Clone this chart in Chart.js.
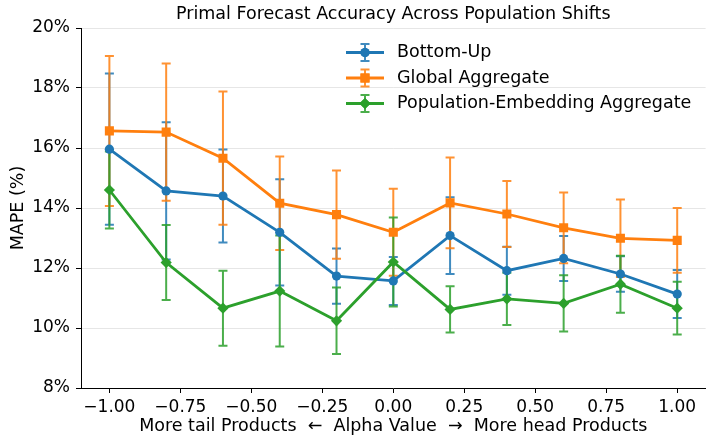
<!DOCTYPE html>
<html>
<head>
<meta charset="utf-8">
<title>Primal Forecast Accuracy</title>
<script src="https://cdn.jsdelivr.net/npm/chart.js@4.4.0/dist/chart.umd.min.js"></script>
<style>
  html, body { margin: 0; padding: 0; background: #fff; overflow: hidden; }
  #wrap { width: 712px; height: 437px; }
</style>
</head>
<body>
<div id="wrap"><canvas id="mapeChart" width="712" height="437"></canvas></div>
<script>
// alpha values on the x axis and the tick positions
const alphas = [-1.0, -0.8, -0.6, -0.4, -0.2, 0.0, 0.2, 0.4, 0.6, 0.8, 1.0];
const xTicks = [-1.0, -0.75, -0.5, -0.25, 0.0, 0.25, 0.5, 0.75, 1.0];

// MAPE (%) per method, with the +/- spread for each point
const bottomUp = [15.96, 14.57, 14.40, 13.19, 11.73, 11.57, 13.08, 11.91, 12.32, 11.80, 11.13];
const bottomUpErr = [2.52, 2.29, 1.55, 1.77, 0.92, 0.80, 1.28, 0.80, 0.75, 0.59, 0.80];
const globalAgg = [16.57, 16.53, 15.66, 14.16, 13.78, 13.19, 14.17, 13.80, 13.34, 12.99, 12.92];
const globalAggErr = [2.50, 2.29, 2.22, 1.56, 1.47, 1.45, 1.51, 1.10, 1.18, 1.29, 1.08];
const popEmbed = [14.60, 12.18, 10.66, 11.23, 10.24, 12.20, 10.62, 10.97, 10.82, 11.46, 10.66];
const popEmbedErr = [1.28, 1.25, 1.25, 1.85, 1.11, 1.48, 0.77, 0.87, 0.94, 0.95, 0.88];

const FONT = "'DejaVu Sans', sans-serif";
const TICK_SIZE = 17;
const LABEL_SIZE = 17.5;

function series(label, values, errors, color, pointStyle, radius, order) {
  return {
    label: label,
    data: alphas.map((a, i) => ({ x: a, y: values[i] })),
    errors: errors,
    borderColor: color,
    backgroundColor: color,
    borderWidth: 2.8,
    pointStyle: pointStyle,
    pointRadius: radius,
    pointBorderWidth: 0,
    order: order,
  };
}

// vertical error bars with caps, drawn under all the lines
const errorBars = {
  id: 'errorBars',
  beforeDatasetsDraw(chart) {
    const ctx = chart.ctx;
    const xs = chart.scales.x, ys = chart.scales.y;
    const area = chart.chartArea;
    ctx.save();
    ctx.beginPath();
    ctx.rect(area.left, area.top, area.right - area.left, area.bottom - area.top);
    ctx.clip();
    ctx.lineWidth = 2;
    ctx.globalAlpha = 0.85;
    chart.data.datasets.forEach(ds => {
      ctx.strokeStyle = ds.borderColor;
      ds.data.forEach((p, i) => {
        const e = ds.errors[i];
        const px = xs.getPixelForValue(p.x);
        const top = ys.getPixelForValue(p.y + e);
        const bot = ys.getPixelForValue(p.y - e);
        ctx.beginPath();
        ctx.moveTo(px, top); ctx.lineTo(px, bot);
        ctx.moveTo(px - 4.5, top); ctx.lineTo(px + 4.5, top);
        ctx.moveTo(px - 4.5, bot); ctx.lineTo(px + 4.5, bot);
        ctx.stroke();
      });
    });
    ctx.restore();
  }
};

// legend inside the plot: line + marker + error bar handle, no frame
const errLegend = {
  id: 'errLegend',
  afterDraw(chart) {
    const ctx = chart.ctx;
    const area = chart.chartArea;
    const x0 = area.left + 265, y0 = area.top + 24.5;
    ctx.save();
    chart.data.datasets.forEach((ds, i) => {
      const y = y0 + i * 25.5;
      const cx = x0 + 19;
      ctx.strokeStyle = ds.borderColor;
      ctx.lineWidth = 2.8;
      ctx.beginPath();
      ctx.moveTo(x0, y); ctx.lineTo(x0 + 38, y);
      ctx.stroke();
      ctx.globalAlpha = 0.85;
      ctx.lineWidth = 2;
      ctx.beginPath();
      ctx.moveTo(cx, y - 8.5); ctx.lineTo(cx, y + 8.5);
      ctx.moveTo(cx - 4.5, y - 8.5); ctx.lineTo(cx + 4.5, y - 8.5);
      ctx.moveTo(cx - 4.5, y + 8.5); ctx.lineTo(cx + 4.5, y + 8.5);
      ctx.stroke();
      ctx.globalAlpha = 1;
      ctx.fillStyle = ds.backgroundColor;
      Chart.helpers.drawPoint(ctx, { pointStyle: ds.pointStyle, radius: ds.pointRadius, rotation: 0, borderWidth: 0 }, cx, y);
      ctx.fill();
      ctx.fillStyle = '#000';
      ctx.font = LABEL_SIZE + 'px ' + FONT;
      ctx.textBaseline = 'middle';
      ctx.textAlign = 'left';
      ctx.fillText(ds.label, x0 + 51, y);
    });
    ctx.restore();
  }
};

const fmtMinus = v => (v < 0 ? '\u2212' : '') + Math.abs(v).toFixed(2);

new Chart(document.getElementById('mapeChart'), {
  type: 'line',
  data: {
    datasets: [
      series('Bottom-Up', bottomUp, bottomUpErr, '#1f77b4', 'circle', 4.6, 3),
      series('Global Aggregate', globalAgg, globalAggErr, '#ff7f0e', 'rect', 6.4, 2),
      series('Population-Embedding Aggregate', popEmbed, popEmbedErr, '#2ca02c', 'rectRot', 5.6, 1),
    ]
  },
  plugins: [errorBars, errLegend],
  options: {
    responsive: false,
    animation: false,
    layout: { padding: { left: 0, right: 2, top: 0, bottom: 0 } },
    plugins: {
      legend: { display: false },
      tooltip: { enabled: false },
      title: {
        display: true,
        text: 'Primal Forecast Accuracy Across Population Shifts',
        fullSize: false,
        color: '#000',
        font: { family: FONT, size: LABEL_SIZE, weight: 'normal' },
        padding: { top: 4, bottom: 3 },
      },
    },
    scales: {
      x: {
        type: 'linear',
        min: -1.1,
        max: 1.1,
        afterBuildTicks: scale => { scale.ticks = xTicks.map(v => ({ value: v })); },
        afterFit: scale => { scale.height = 49; },
        grid: { drawOnChartArea: false, drawTicks: true, tickLength: 5, tickColor: '#000', tickWidth: 1 },
        border: { color: '#000', width: 1 },
        ticks: {
          color: '#000',
          padding: 4,
          maxRotation: 0,
          font: { family: FONT, size: TICK_SIZE },
          callback: v => fmtMinus(v),
        },
        title: {
          display: true,
          text: 'More tail Products  \u2190  Alpha Value  \u2192  More head Products',
          color: '#000',
          font: { family: FONT, size: LABEL_SIZE },
          padding: { top: 0, bottom: 0 },
        },
      },
      y: {
        min: 8,
        max: 20,
        afterFit: scale => { scale.width = 81; },
        grid: { color: '#e6e6e6', lineWidth: 1, tickLength: 5, tickColor: '#000' },
        border: { color: '#000', width: 1 },
        ticks: {
          stepSize: 2,
          color: '#000',
          padding: 6,
          font: { family: FONT, size: TICK_SIZE },
          callback: v => v + '%',
        },
        title: {
          display: true,
          text: 'MAPE (%)',
          color: '#000',
          font: { family: FONT, size: LABEL_SIZE },
          padding: { top: 8, bottom: 0 },
        },
      },
    },
  },
});
</script>
</body>
</html>
